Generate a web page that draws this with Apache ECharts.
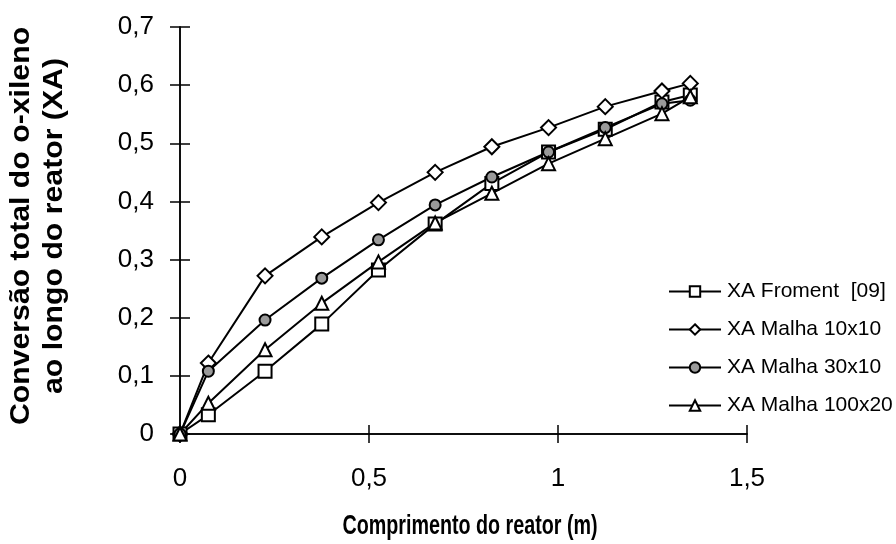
<!DOCTYPE html>
<html>
<head>
<meta charset="utf-8">
<script src="https://cdn.jsdelivr.net/npm/echarts@6/dist/echarts.min.js"></script>
<style>
  html, body { margin: 0; padding: 0; background: #fff; }
  #chart { width: 896px; height: 544px; }
</style>
</head>
<body>
<div id="chart"></div>
<script>
// posições ao longo do reator (m)
const comprimento = [0, 0.075, 0.225, 0.375, 0.525, 0.675, 0.825, 0.975, 1.125, 1.275, 1.35];
// conversão XA de cada série
const xaFroment = [0, 0.033, 0.108, 0.189, 0.282, 0.361, 0.431, 0.485, 0.524, 0.571, 0.583];
const xaMalha10x10 = [0, 0.122, 0.272, 0.339, 0.398, 0.450, 0.494, 0.527, 0.563, 0.590, 0.603];
const xaMalha30x10 = [0, 0.108, 0.196, 0.268, 0.334, 0.394, 0.442, 0.485, 0.527, 0.568, 0.574];
const xaMalha100x20 = [0, 0.053, 0.145, 0.225, 0.296, 0.363, 0.414, 0.465, 0.508, 0.551, 0.580];
const nomesSeries = ["XA Froment  [09]", "XA Malha 10x10", "XA Malha 30x10", "XA Malha 100x20"];
const tituloX = "Comprimento do reator (m)";
const tituloY = "Conversão total do o-xileno\nao longo do reator (XA)";

const font = "Arial, 'Liberation Sans', sans-serif";
const virgula = (v) => String(v).replace(".", ",");
const pares = (ys) => comprimento.map((x, i) => [x, ys[i]]);

const grade = { left: 180, right: 149, top: 27, bottom: 110 };
const larguraPlot = 896 - grade.left - grade.right;
const alturaPlot = 544 - grade.top - grade.bottom;

const chart = echarts.init(document.getElementById("chart"));

function serie(nome, dados, simbolo, tamanho, cor) {
  return {
    name: nome,
    type: "line",
    data: pares(dados),
    symbol: simbolo,
    symbolSize: tamanho,
    showAllSymbol: true,
    lineStyle: { color: "#000", width: 2 },
    itemStyle: { color: cor, borderColor: "#000", borderWidth: 2 },
    emphasis: { disabled: true },
    animation: false,
  };
}

const tickStyle = { color: "#000", width: 1.5 };

chart.setOption({
  backgroundColor: "#fff",
  animation: false,
  grid: Object.assign({ containLabel: false, outerBoundsMode: "none" }, grade),
  xAxis: [
    {
      type: "value",
      min: 0,
      max: 1.5,
      interval: 0.5,
      splitLine: { show: false },
      axisLine: { onZero: false, lineStyle: tickStyle },
      axisTick: { inside: false, length: 9, lineStyle: tickStyle },
      axisLabel: { formatter: virgula, color: "#000", fontSize: 26, fontFamily: font, margin: 32 },
    },
    {
      // eixo auxiliar (no topo, deslocado para baixo) só para as marcas que cruzam o eixo
      type: "value",
      position: "top",
      offset: -alturaPlot,
      min: 0,
      max: 1.5,
      interval: 0.5,
      splitLine: { show: false },
      axisLine: { show: true, onZero: false, lineStyle: tickStyle },
      axisTick: { show: true, inside: false, length: 9, lineStyle: tickStyle },
      axisLabel: { show: false },
    },
  ],
  yAxis: [
    {
      type: "value",
      min: 0,
      max: 0.7,
      interval: 0.1,
      splitLine: { show: false },
      axisLine: { show: true, onZero: false, lineStyle: tickStyle },
      axisTick: { show: true, inside: false, length: 10, lineStyle: tickStyle },
      axisLabel: { formatter: virgula, color: "#000", fontSize: 26, fontFamily: font, margin: 26 },
    },
    {
      type: "value",
      position: "right",
      offset: -larguraPlot,
      min: 0,
      max: 0.7,
      interval: 0.1,
      splitLine: { show: false },
      axisLine: { show: true, onZero: false, lineStyle: tickStyle },
      axisTick: { show: true, inside: false, length: 10, lineStyle: tickStyle },
      axisLabel: { show: false },
    },
  ],
  graphic: [
    {
      type: "text",
      x: 470,
      y: 527,
      scaleX: 0.73,
      silent: true,
      style: {
        text: tituloX,
        font: "bold 27px Arial, 'Liberation Sans', sans-serif",
        fill: "#000",
        align: "center",
        verticalAlign: "middle",
      },
    },
    {
      type: "text",
      x: 38,
      y: 226,
      rotation: Math.PI / 2,
      scaleX: 1.12,
      silent: true,
      style: {
        text: tituloY,
        font: "bold 27px Arial, 'Liberation Sans', sans-serif",
        lineHeight: 33,
        fill: "#000",
        align: "center",
        verticalAlign: "middle",
      },
    },
  ],
  legend: {
    orient: "vertical",
    left: 663,
    top: 276,
    itemWidth: 52,
    itemHeight: 13,
    itemGap: 17,
    data: nomesSeries,
    textStyle: { color: "#000", fontSize: 21, fontFamily: font, padding: [0, 0, 0, 1] },
  },
  series: [
    serie(nomesSeries[0], xaFroment, "rect", 13, "#fff"),
    serie(nomesSeries[1], xaMalha10x10, "diamond", 15, "#fff"),
    serie(nomesSeries[2], xaMalha30x10, "circle", 11, "#9a9a9a"),
    serie(nomesSeries[3], xaMalha100x20, "triangle", 13, "#fff"),
    // série vazia que liga os eixos auxiliares
    { type: "line", xAxisIndex: 1, yAxisIndex: 1, data: [], silent: true },
  ],
});
</script>
</body>
</html>
